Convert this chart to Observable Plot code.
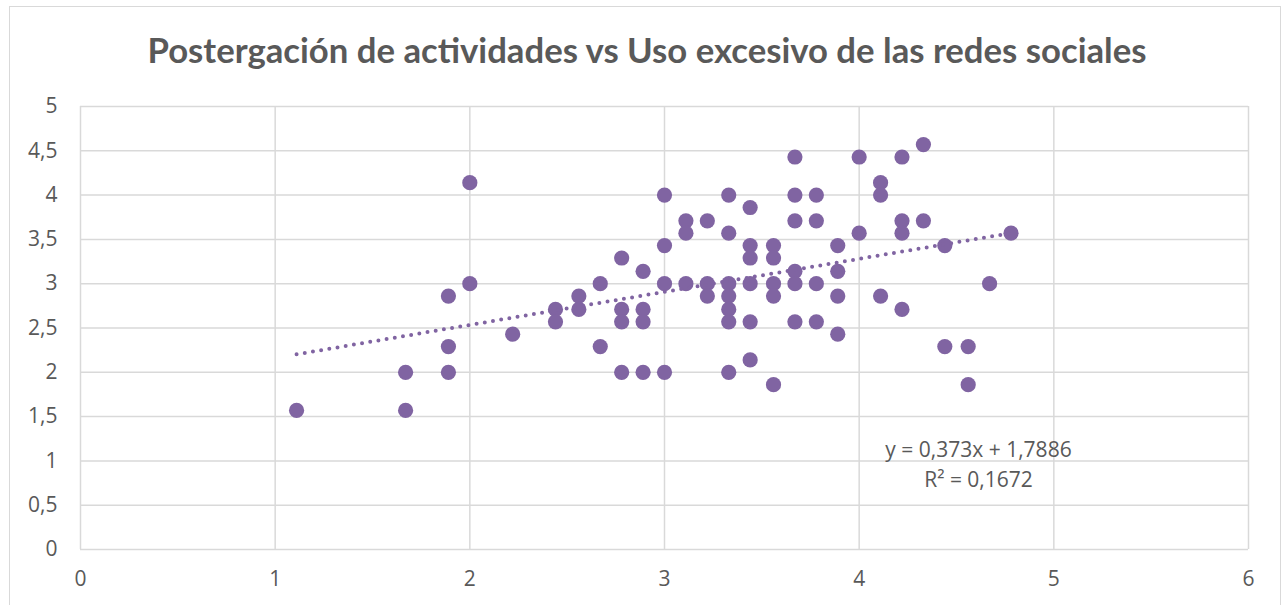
<!DOCTYPE html>
<html>
<head>
<meta charset="utf-8">
<script src="https://cdn.jsdelivr.net/npm/d3@7"></script>
<script src="https://cdn.jsdelivr.net/npm/@observablehq/plot@0.6"></script>
<style>
  html, body { margin: 0; padding: 0; background: #fff; }
  #frame { position: absolute; left: 9px; top: 6px; width: 1272px; height: 610px; border: 1px solid #d9d9d9; box-sizing: border-box; }
  #title { position: absolute; left: 0; top: 29px; width: 1294px; text-align: center; font-family: Lato, "Open Sans", sans-serif; font-weight: bold; font-size: 34.7px; color: #595959; white-space: nowrap; }
  #chart { position: absolute; left: 0; top: 80px; }
</style>
</head>
<body>
<div id="frame"></div>
<div id="title">Postergación de actividades vs Uso excesivo de las redes sociales</div>
<div id="chart"></div>
<script>
// Uso excesivo de las redes sociales (x) and Postergación de actividades (y)
const usoRedes = [
  1.11, 1.67, 1.67, 1.89, 1.89, 1.89, 2, 2, 2.22, 2.44, 2.44, 2.56, 2.56, 2.67, 2.67,
  2.78, 2.78, 2.78, 2.78, 2.89, 2.89, 2.89, 2.89, 3, 3, 3, 3, 3.11, 3.11, 3.11,
  3.22, 3.22, 3.22, 3.33, 3.33, 3.33, 3.33, 3.33, 3.33, 3.33, 3.44, 3.44, 3.44, 3.44, 3.44, 3.44,
  3.56, 3.56, 3.56, 3.56, 3.56, 3.67, 3.67, 3.67, 3.67, 3.67, 3.67, 3.78, 3.78, 3.78, 3.78,
  3.89, 3.89, 3.89, 3.89, 4, 4, 4.11, 4.11, 4.11, 4.22, 4.22, 4.22, 4.22, 4.33, 4.33,
  4.44, 4.44, 4.56, 4.56, 4.67, 4.78
];
const postergacion = [
  1.57, 2, 1.57, 2.86, 2.29, 2, 4.14, 3, 2.43, 2.71, 2.57, 2.86, 2.71, 3, 2.29,
  3.29, 2.71, 2.57, 2, 3.14, 2.71, 2.57, 2, 4, 3.43, 3, 2, 3.71, 3.57, 3,
  3.71, 3, 2.86, 4, 3.57, 3, 2.86, 2.71, 2.57, 2, 3.86, 3.43, 3.29, 3, 2.57, 2.14,
  3.43, 3.29, 3, 2.86, 1.86, 4.43, 4, 3.71, 3.14, 3, 2.57, 4, 3.71, 3, 2.57,
  3.43, 3.14, 2.86, 2.43, 4.43, 3.57, 4.14, 4, 2.86, 4.43, 3.71, 3.57, 2.71, 4.57, 3.71,
  3.43, 2.29, 2.29, 1.86, 3, 3.57
];
const xTicks = [0, 1, 2, 3, 4, 5, 6];
const yTicks = [0, 0.5, 1, 1.5, 2, 2.5, 3, 3.5, 4, 4.5, 5];
const trendSlope = 0.373;
const trendIntercept = 1.7886;
const trendLabel = "y = 0,373x + 1,7886\nR² = 0,1672";

const points = usoRedes.map((x, i) => ({x, y: postergacion[i]}));
const xMin = d3.min(usoRedes), xMax = d3.max(usoRedes);
const trend = [xMin, xMax].map(x => ({x, y: trendSlope * x + trendIntercept}));
const fmt = d => String(d).replace(".", ",");

const purple = "#8064a2";
const grid = "#d9d9d9";

const chart = Plot.plot({
  width: 1287,
  height: 525,
  marginTop: 26,
  marginBottom: 56,
  marginLeft: 80,
  marginRight: 39,
  style: {fontFamily: "'Open Sans', sans-serif", fontSize: "21px", color: "#595959", background: "transparent"},
  x: {domain: [0, 6]},
  y: {domain: [0, 5]},
  marks: [
    Plot.gridX(xTicks, {stroke: grid, strokeOpacity: 1, strokeWidth: 1.5}),
    Plot.gridY(yTicks, {stroke: grid, strokeOpacity: 1, strokeWidth: 1.5}),
    Plot.axisX(xTicks, {tickSize: 0, tickPadding: 22, tickFormat: fmt, label: null, fontSize: 21}),
    Plot.axisY(yTicks, {tickSize: 0, tickPadding: 23, tickFormat: fmt, label: null, fontSize: 21}),
    Plot.dot(points, {x: "x", y: "y", r: 7.6, fill: purple, stroke: "none"}),
    Plot.line(trend, {x: "x", y: "y", stroke: purple, strokeWidth: 4, strokeDasharray: "0 8.3", strokeLinecap: "round"}),
    Plot.text([trendLabel], {frameAnchor: "bottom-right", dx: -270, dy: -87, text: d => d, textAnchor: "middle", lineAnchor: "middle", lineHeight: 1.42, fontSize: 21, fill: "#595959"})
  ]
});
document.getElementById("chart").appendChild(chart);
</script>
</body>
</html>
